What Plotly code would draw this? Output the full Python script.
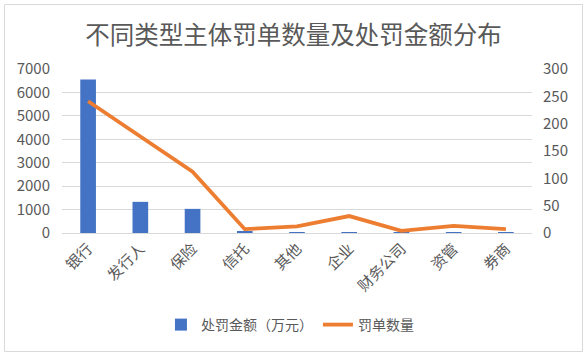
import plotly.graph_objects as go

categories = ["银行", "发行人", "保险", "信托", "其他", "企业", "财务公司", "资管", "券商"]
fine_amount = [6550, 1330, 1030, 60, 30, 30, 30, 5, 5]
ticket_count = [241, 176, 112, 7, 12, 31, 4, 13, 7]
left_ticks = [0, 1000, 2000, 3000, 4000, 5000, 6000, 7000]
right_ticks = [0, 50, 100, 150, 200, 250, 300]

W, H = 587, 356
L, R, T, B = 62, 55, 69, 123
pw, ph = W - L - R, H - T - B

font = "Noto Sans CJK SC, Microsoft YaHei, sans-serif"
gray = "#595959"

fig = go.Figure()
fig.add_trace(go.Bar(
    x=categories, y=fine_amount, name="处罚金额（万元）",
    marker=dict(color="#4472C4", line=dict(width=0)), width=0.3, yaxis="y",
))
fig.add_trace(go.Scatter(
    x=categories, y=ticket_count, name="罚单数量", mode="lines",
    line=dict(color="#ED7D31", width=3.8), yaxis="y2",
))

# outer border
fig.add_shape(type="rect", xref="paper", yref="paper",
              x0=(4.5 - L) / pw, x1=(W - 4.5 - L) / pw,
              y0=-(H - 4.5 - T - ph) / ph, y1=1 + (T - 4.5) / ph,
              line=dict(color="#D9D9D9", width=1), fillcolor="rgba(0,0,0,0)", layer="below")

fig.update_layout(
    width=W, height=H,
    margin=dict(l=L, r=R, t=T, b=B, autoexpand=False),
    paper_bgcolor="white", plot_bgcolor="white",
    font=dict(family=font, color=gray, size=14),
    title=dict(text="不同类型主体罚单数量及处罚金额分布", x=0.5, xanchor="center",
               y=1 - 35 / H, yanchor="middle", automargin=False,
               font=dict(size=24.5, color=gray, family=font)),
    xaxis=dict(showgrid=False, showline=True, linecolor="#D9D9D9", linewidth=1,
               tickangle=-45, tickfont=dict(size=15, color=gray), ticks="",
               automargin=False),
    yaxis=dict(range=[0, 7000], tickvals=left_ticks, showgrid=True,
               gridcolor="#D9D9D9", gridwidth=1, zeroline=False,
               tickfont=dict(size=15, color=gray), ticks="", showline=False,
               automargin=False, ticklabelstandoff=11),
    yaxis2=dict(range=[0, 300], tickvals=right_ticks, overlaying="y", side="right",
                showgrid=False, zeroline=False, tickfont=dict(size=15, color=gray),
                ticks="", showline=False, automargin=False, ticklabelstandoff=10),
    legend=dict(orientation="h", x=0.485, xanchor="center", y=(233 - 325) / ph,
                yanchor="middle", font=dict(size=14, color=gray),
                itemwidth=30, traceorder="normal"),
    bargap=0.7,
    showlegend=True,
)

fig.write_html("out.html", config={"displayModeBar": False},
               post_script="document.body.style.margin='0';document.body.style.overflow='hidden';")
